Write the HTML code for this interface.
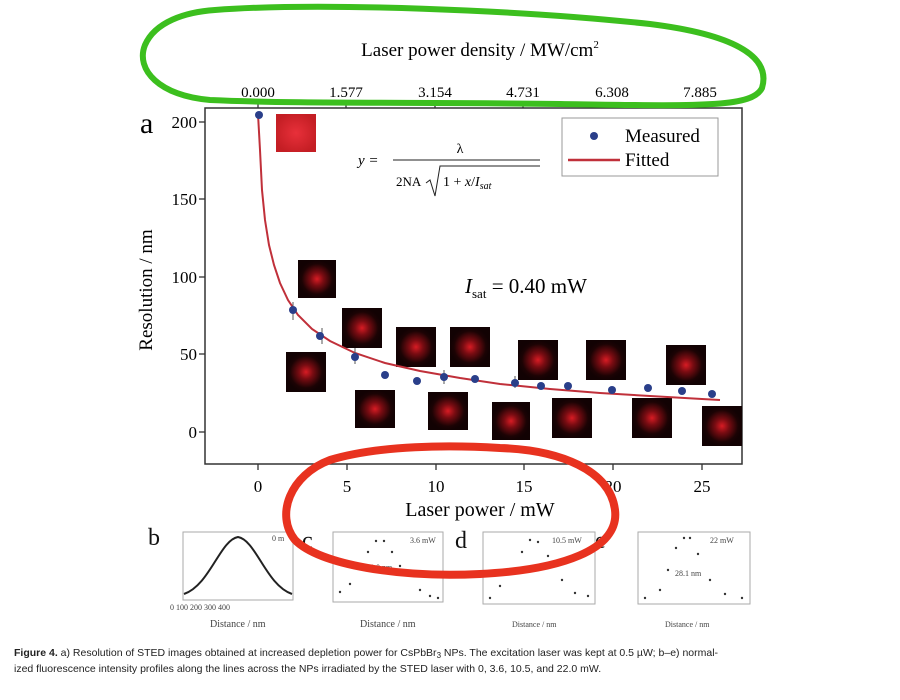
<!DOCTYPE html>
<html><head><meta charset="utf-8"><style>
body{margin:0;background:#fff;width:900px;height:695px;overflow:hidden;font-family:"Liberation Serif",serif}
</style></head><body>
<svg width="900" height="695" viewBox="0 0 900 695" xmlns="http://www.w3.org/2000/svg" font-family="Liberation Serif, serif">
<defs>
<radialGradient id="g" cx="50%" cy="50%" r="50%"><stop offset="0" stop-color="#d81c24"/><stop offset="0.35" stop-color="#7a0c12"/><stop offset="0.8" stop-color="#1c0304"/><stop offset="1" stop-color="#120203"/></radialGradient>
<radialGradient id="g2" cx="50%" cy="50%" r="55%"><stop offset="0" stop-color="#e8303a"/><stop offset="1" stop-color="#c41e24"/></radialGradient>
</defs>
<text x="480" y="56" font-size="19" text-anchor="middle">Laser power density / MW/cm<tspan dy="-8" font-size="11">2</tspan></text>
<g font-size="15" text-anchor="middle">
<text x="258" y="97">0.000</text><text x="346" y="97">1.577</text><text x="435" y="97">3.154</text><text x="523" y="97">4.731</text><text x="612" y="97">6.308</text><text x="700" y="97">7.885</text>
</g>
<rect x="205" y="108" width="537" height="356" fill="none" stroke="#333" stroke-width="1.5"/>
<g stroke="#333" stroke-width="1.3">
<line x1="258" y1="108" x2="258" y2="102"/><line x1="346" y1="108" x2="346" y2="102"/><line x1="435" y1="108" x2="435" y2="102"/><line x1="523" y1="108" x2="523" y2="102"/><line x1="612" y1="108" x2="612" y2="102"/><line x1="700" y1="108" x2="700" y2="102"/>
<line x1="258" y1="464" x2="258" y2="470"/><line x1="347" y1="464" x2="347" y2="470"/><line x1="436" y1="464" x2="436" y2="470"/><line x1="524" y1="464" x2="524" y2="470"/><line x1="613" y1="464" x2="613" y2="470"/><line x1="702" y1="464" x2="702" y2="470"/>
<line x1="205" y1="122" x2="199" y2="122"/><line x1="205" y1="199" x2="199" y2="199"/><line x1="205" y1="277" x2="199" y2="277"/><line x1="205" y1="354" x2="199" y2="354"/><line x1="205" y1="432" x2="199" y2="432"/>
</g>
<text x="140" y="133" font-size="30">a</text>
<g font-size="17" text-anchor="end">
<text x="197" y="128">200</text><text x="197" y="205">150</text><text x="197" y="283">100</text><text x="197" y="360">50</text><text x="197" y="438">0</text>
</g>
<text transform="translate(152,290) rotate(-90)" font-size="19" text-anchor="middle">Resolution / nm</text>
<g font-size="17" text-anchor="middle">
<text x="258" y="492">0</text><text x="347" y="492">5</text><text x="436" y="492">10</text><text x="524" y="492">15</text><text x="613" y="492">20</text><text x="702" y="492">25</text>
</g>
<text x="480" y="516" font-size="20" text-anchor="middle">Laser power / mW</text>
<rect x="276" y="114" width="40" height="38" fill="url(#g2)"/>
<g fill="url(#g)">
<rect x="298" y="260" width="38" height="38"/><rect x="286" y="352" width="40" height="40"/><rect x="342" y="308" width="40" height="40"/>
<rect x="355" y="390" width="40" height="38"/><rect x="396" y="327" width="40" height="40"/><rect x="428" y="392" width="40" height="38"/>
<rect x="450" y="327" width="40" height="40"/><rect x="492" y="402" width="38" height="38"/><rect x="518" y="340" width="40" height="40"/>
<rect x="552" y="398" width="40" height="40"/><rect x="586" y="340" width="40" height="40"/><rect x="632" y="398" width="40" height="40"/>
<rect x="666" y="345" width="40" height="40"/><rect x="702" y="406" width="40" height="40"/>
</g>
<path d="M258,114 L260,150 L262,190 L265,220 L269,245 L274,265 L280,283 L288,300 L298,315 L312,329 L330,341 L355,353 L385,363 L420,371 L460,378 L500,384 L550,389 L600,393 L650,396 L702,399 L720,400" fill="none" stroke="#c0303a" stroke-width="2"/>
<g stroke="#555" stroke-width="1">
<line x1="293" y1="302" x2="293" y2="320"/><line x1="322" y1="328" x2="322" y2="344"/><line x1="355" y1="348" x2="355" y2="364"/><line x1="444" y1="370" x2="444" y2="384"/><line x1="515" y1="376" x2="515" y2="388"/>
</g>
<g fill="#2a3f8a">
<circle cx="259" cy="115" r="4"/><circle cx="293" cy="310" r="4"/><circle cx="320" cy="336" r="4"/><circle cx="355" cy="357" r="4"/><circle cx="385" cy="375" r="4"/><circle cx="417" cy="381" r="4"/><circle cx="444" cy="377" r="4"/><circle cx="475" cy="379" r="4"/><circle cx="515" cy="383" r="4"/><circle cx="541" cy="386" r="4"/><circle cx="568" cy="386" r="4"/><circle cx="612" cy="390" r="4"/><circle cx="648" cy="388" r="4"/><circle cx="682" cy="391" r="4"/><circle cx="712" cy="394" r="4"/>
</g>
<rect x="562" y="118" width="156" height="58" fill="#fff" stroke="#999"/>
<circle cx="594" cy="136" r="4" fill="#2a3f8a"/>
<text x="625" y="142" font-size="19">Measured</text>
<line x1="568" y1="160" x2="620" y2="160" stroke="#c0303a" stroke-width="2.5"/>
<text x="625" y="166" font-size="19">Fitted</text>
<text x="358" y="165" font-size="15" font-style="italic">y =</text>
<text x="460" y="153" font-size="14" text-anchor="middle">λ</text>
<line x1="393" y1="160" x2="540" y2="160" stroke="#222" stroke-width="1"/>
<text x="396" y="186" font-size="13">2NA</text>
<path d="M426,183 L430,180 L435,196 L440,166 L540,166" fill="none" stroke="#222" stroke-width="1"/>
<text x="443" y="186" font-size="14">1 + <tspan font-style="italic">x</tspan>/<tspan font-style="italic">I<tspan font-size="10" dy="3">sat</tspan></tspan></text>
<text x="465" y="293" font-size="21"><tspan font-style="italic">I</tspan><tspan font-size="13" dy="5">sat</tspan><tspan dy="-5"> = 0.40 mW</tspan></text>
<g font-size="8" fill="#444">
<text x="148" y="545" font-size="24" fill="#111">b</text>
<rect x="183" y="532" width="110" height="68" fill="none" stroke="#aaa"/>
<path d="M184,594 C210,585 220,540 238,537 C256,540 266,585 292,594" fill="none" stroke="#222" stroke-width="2"/>
<text x="272" y="541">0 m</text>
<text x="170" y="610">0 100 200 300 400</text>
<text x="210" y="627" font-size="10">Distance / nm</text>
<text x="302" y="548" font-size="24" fill="#111">c</text>
<rect x="333" y="532" width="110" height="70" fill="none" stroke="#aaa"/>
<text x="410" y="543">3.6 mW</text><text x="366" y="570">62.0 nm</text>
<text x="360" y="627" font-size="10">Distance / nm</text>
<text x="455" y="548" font-size="24" fill="#111">d</text>
<rect x="483" y="532" width="112" height="72" fill="none" stroke="#aaa"/>
<text x="552" y="543">10.5 mW</text>
<text x="512" y="627" font-size="8">Distance / nm</text>
<text x="595" y="548" font-size="24" fill="#111">e</text>
<rect x="638" y="532" width="112" height="72" fill="none" stroke="#aaa"/>
<text x="710" y="543">22 mW</text><text x="675" y="576">28.1 nm</text>
<text x="665" y="627" font-size="8">Distance / nm</text>
</g>
<g fill="#333">
<circle cx="340" cy="592" r="1.2"/><circle cx="350" cy="584" r="1.2"/><circle cx="360" cy="568" r="1.2"/><circle cx="368" cy="552" r="1.2"/><circle cx="376" cy="541" r="1.2"/><circle cx="384" cy="541" r="1.2"/><circle cx="392" cy="552" r="1.2"/><circle cx="400" cy="566" r="1.2"/><circle cx="420" cy="590" r="1.2"/><circle cx="430" cy="596" r="1.2"/><circle cx="438" cy="598" r="1.2"/>
<circle cx="490" cy="598" r="1.2"/><circle cx="500" cy="586" r="1.2"/><circle cx="512" cy="572" r="1.2"/><circle cx="522" cy="552" r="1.2"/><circle cx="530" cy="540" r="1.2"/><circle cx="538" cy="542" r="1.2"/><circle cx="548" cy="556" r="1.2"/><circle cx="562" cy="580" r="1.2"/><circle cx="575" cy="593" r="1.2"/><circle cx="588" cy="596" r="1.2"/>
<circle cx="645" cy="598" r="1.2"/><circle cx="660" cy="590" r="1.2"/><circle cx="668" cy="570" r="1.2"/><circle cx="676" cy="548" r="1.2"/><circle cx="684" cy="538" r="1.2"/><circle cx="690" cy="538" r="1.2"/><circle cx="698" cy="554" r="1.2"/><circle cx="710" cy="580" r="1.2"/><circle cx="725" cy="594" r="1.2"/><circle cx="742" cy="598" r="1.2"/>
</g>
<text x="14" y="656" font-family="Liberation Sans, sans-serif" font-size="10.5" fill="#222"><tspan font-weight="bold">Figure 4.</tspan> a) Resolution of STED images obtained at increased depletion power for CsPbBr<tspan font-size="8" dy="2">3</tspan><tspan dy="-2"> NPs. The excitation laser was kept at 0.5 µW; b–e) normal-</tspan></text>
<text x="14" y="672" font-family="Liberation Sans, sans-serif" font-size="10.5" fill="#222">ized fluorescence intensity profiles along the lines across the NPs irradiated by the STED laser with 0, 3.6, 10.5, and 22.0 mW.</text>
<path d="M215,10 C320,2 520,10 650,24 C730,34 772,55 762,88 C752,108 700,106 560,104 C420,102 300,104 210,100 C160,96 135,70 145,45 C155,22 185,12 215,10 Z" fill="none" stroke="#3cbf1e" stroke-width="6"/>
<path d="M330,460 C380,445 450,445 500,448 C560,450 610,470 615,510 C620,550 560,570 480,574 C400,578 320,565 295,540 C275,515 290,475 330,460 Z" fill="none" stroke="#e8321f" stroke-width="8"/>
</svg>
</body></html>
